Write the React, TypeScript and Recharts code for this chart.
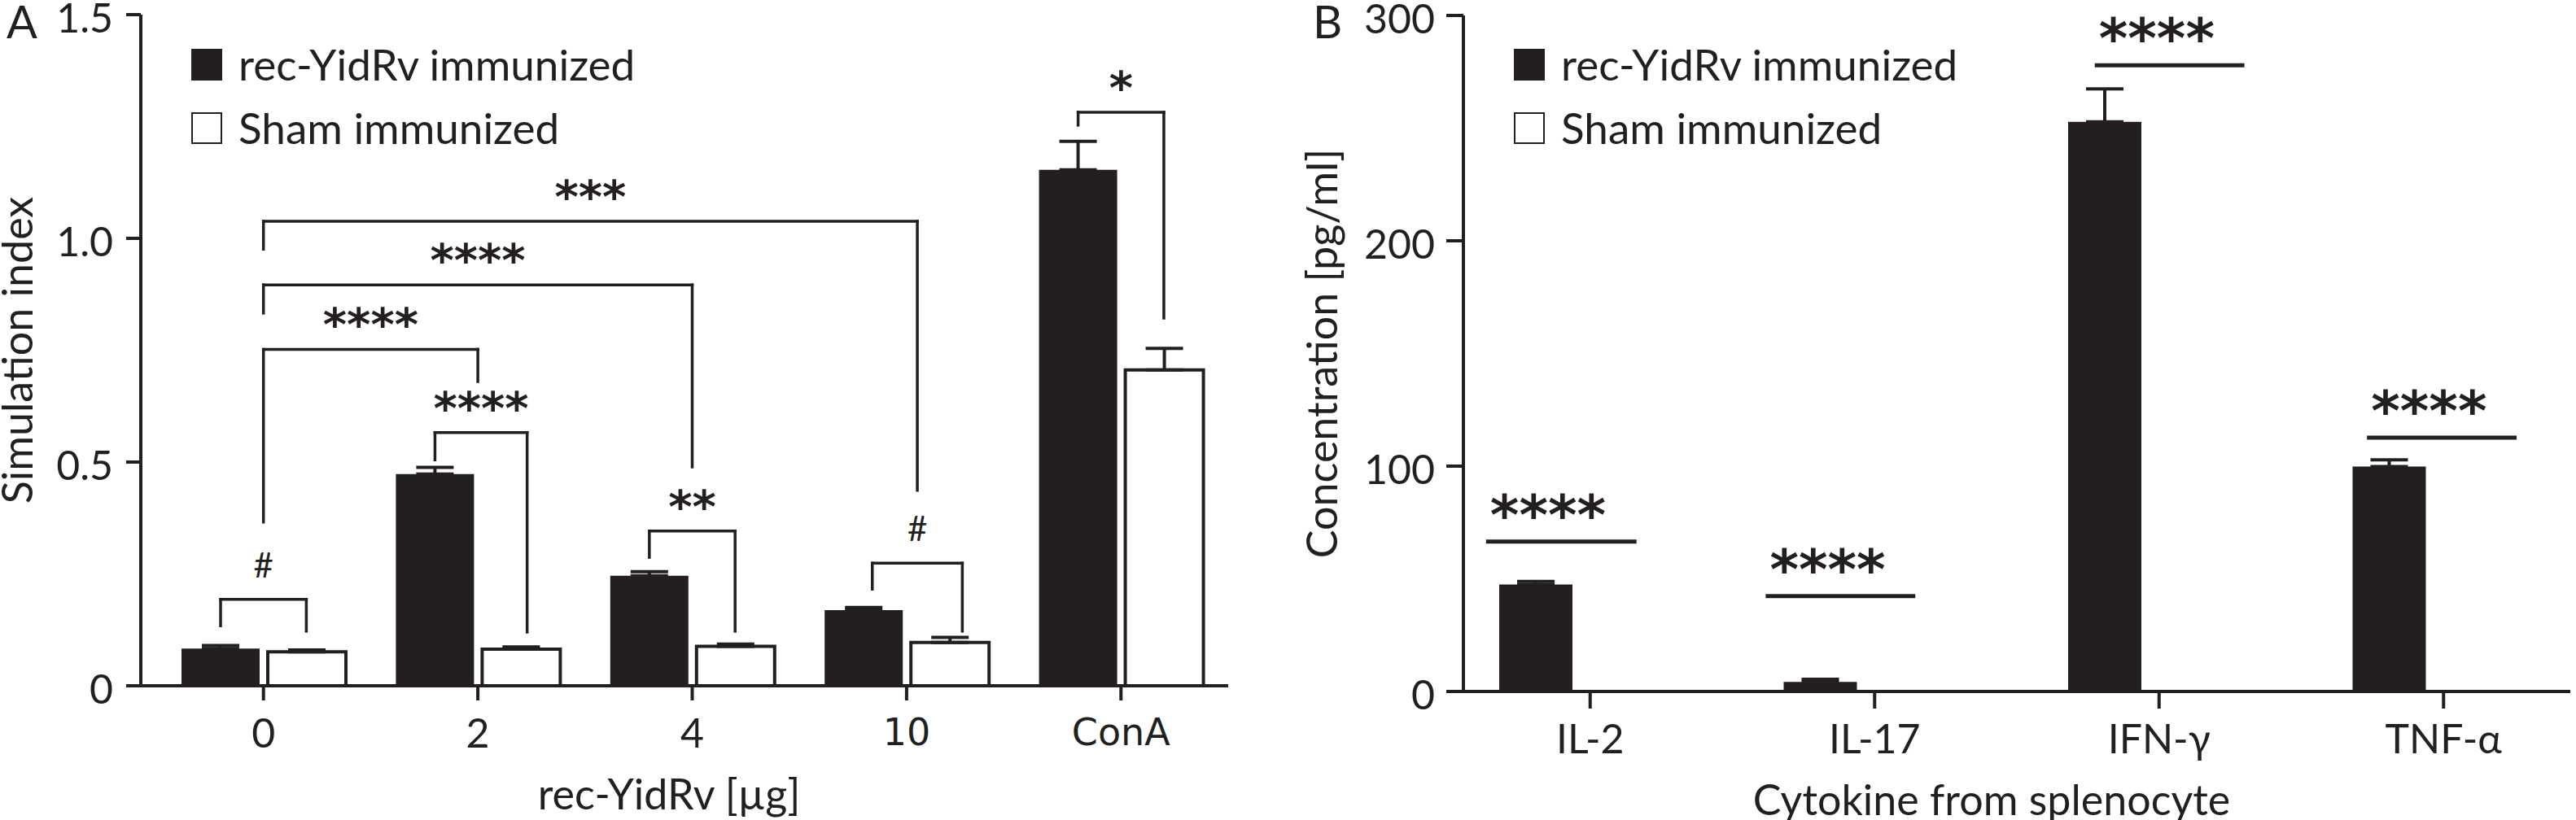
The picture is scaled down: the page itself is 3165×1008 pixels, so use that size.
import React from 'react'
import {
  ComposedChart,
  Bar,
  XAxis,
  YAxis,
  ErrorBar,
  ReferenceLine,
  Legend,
} from 'recharts'

const INK = '#231f20'
const FONT = 'Lato, "Open Sans", sans-serif'
const ALT_FONT = '"DejaVu Sans", Verdana, sans-serif'

// panel A: proliferation
const doses = ['0', '2', '4', '10', 'ConA']
const recIndex = [0.083, 0.473, 0.246, 0.169, 1.153]
const recIndexErr = [0.007, 0.015, 0.009, 0.006, 0.064]
const shamIndex = [0.076, 0.082, 0.088, 0.097, 0.706]
const shamIndexErr = [0.004, 0.005, 0.005, 0.011, 0.048]
const indexTicks = [0, 0.5, 1.0, 1.5]

// brackets in category units (0 = first group), heights in index units
const bracketsA = [
  { x1: -0.2, x2: 0.2, top: 0.193, leftEnd: 0.134, rightEnd: 0.122, mark: '#' },
  { x1: 0.8, x2: 1.23, top: 0.566, leftEnd: 0.505, rightEnd: 0.12, mark: '****' },
  { x1: 1.8, x2: 2.2, top: 0.346, leftEnd: 0.287, rightEnd: 0.122, mark: '**' },
  { x1: 2.84, x2: 3.26, top: 0.274, leftEnd: 0.216, rightEnd: 0.122, mark: '#' },
  { x1: 3.8, x2: 4.2, top: 1.282, leftEnd: 1.253, rightEnd: 0.822, mark: '*' },
  { x1: 0, x2: 1, top: 0.752, leftEnd: 0.366, rightEnd: 0.68, mark: '****' },
  { x1: 0, x2: 2, top: 0.896, leftEnd: 0.833, rightEnd: 0.489, mark: '****' },
  { x1: 0, x2: 3.05, top: 1.038, leftEnd: 0.976, rightEnd: 0.437, mark: '***' },
]

// panel B: cytokines
const cytokines = ['IL-2', 'IL-17', 'IFN-γ', 'TNF-α']
const recConc = [47.5, 4.2, 252.8, 99.8]
const recConcErr = [1.3, 1.2, 14.6, 3.0]
const shamConc = [0, 0, 0, 0]
const concTicks = [0, 100, 200, 300]

const sigLinesB = [
  { x1: -0.366, x2: 0.163, y: 66.5 },
  { x1: 0.617, x2: 1.143, y: 42.3 },
  { x1: 1.774, x2: 2.3, y: 277.9 },
  { x1: 2.731, x2: 3.257, y: 112.6 },
]

const dataA = doses.map((d, i) => ({
  dose: d,
  slot: i,
  rec: recIndex[i],
  recErr: [0, recIndexErr[i]],
  sham: shamIndex[i],
  shamErr: [0, shamIndexErr[i]],
}))

const dataB = cytokines.map((c, i) => ({
  cytokine: c,
  slot: i,
  rec: recConc[i],
  recErr: [0, recConcErr[i]],
  sham: shamConc[i],
}))

const axisStyle = { stroke: INK, strokeWidth: 4 }

const LegendBox = (props: any) => (
  <div style={{ fontFamily: FONT, fontSize: 53, color: INK }}>
    {(props.payload || []).map((entry: any) => (
      <div
        key={entry.value}
        style={{ display: 'flex', alignItems: 'center', height: 78, lineHeight: '62px' }}
      >
        <span
          style={{
            display: 'inline-block',
            width: 34,
            height: 35,
            background: entry.color,
            border: `2px solid ${INK}`,
            marginRight: 20,
          }}
        />
        {entry.value}
      </div>
    ))}
  </div>
)

const CategoryTick = (props: any) => {
  const v = props.payload.value
  const alt = v === '10' || v === 'ConA'
  return (
    <text
      x={props.x}
      y={props.y}
      dy="0.71em"
      textAnchor="middle"
      fill={INK}
      fontSize={alt ? 46 : 50}
      fontFamily={alt ? ALT_FONT : FONT}
    >
      {v}
    </text>
  )
}

const ValueTick = (props: any) => (
  <text
    x={props.x}
    y={props.y + 4}
    dy="0.36em"
    textAnchor="end"
    fill={INK}
    fontSize={50}
    fontFamily={FONT}
  >
    {props.tickFormatter ? props.tickFormatter(props.payload.value) : props.payload.value}
  </text>
)

const markAbove = (text: string, size: number, gap: number, startAt?: number) => (props: any) => {
  const vb = props.viewBox
  const stars = text.startsWith('*')
  const x = startAt === undefined ? vb.x + vb.width / 2 : vb.x + startAt
  return (
    <text
      x={x}
      y={vb.y - gap}
      textAnchor={startAt === undefined ? 'middle' : 'start'}
      fill={INK}
      fontSize={size}
      fontWeight={stars ? 700 : 400}
      fontFamily={stars ? ALT_FONT : FONT}
    >
      {text}
    </text>
  )
}

const yTitle = (title: string, letter: string, dx: number, letterX: number) => (props: any) => {
  const vb = props.viewBox
  const cx = vb.x + dx
  const cy = vb.y + vb.height / 2
  return (
    <g>
      <text
        x={cx}
        y={cy}
        transform={`rotate(-90, ${cx}, ${cy})`}
        textAnchor="middle"
        fill={INK}
        fontSize={52}
        fontFamily={FONT}
      >
        {title}
      </text>
      <text x={letterX} y={47} fill={INK} fontSize={56} fontFamily={FONT}>
        {letter}
      </text>
    </g>
  )
}

const xTitle = (title: string, dx: number) => (props: any) => {
  const vb = props.viewBox
  return (
    <text
      x={vb.x + vb.width / 2 + dx}
      y={vb.y + 152}
      textAnchor="middle"
      fill={INK}
      fontSize={52}
      fontFamily={FONT}
    >
      {title}
    </text>
  )
}

const PanelA = () => (
  <ComposedChart
    width={1580}
    height={1008}
    data={dataA}
    barSize={96}
    barGap={10}
    margin={{ top: 18, right: 71, bottom: 85, left: 73 }}
  >
    <XAxis
      dataKey="dose"
      height={80}
      padding={{ left: 19, right: 0 }}
      tickSize={18}
      tickMargin={22}
      tick={<CategoryTick />}
      tickLine={axisStyle}
      axisLine={axisStyle}
      label={{ content: xTitle('rec-YidRv [µg]', -19) }}
    />
    <XAxis
      xAxisId="n"
      dataKey="slot"
      orientation="top"
      type="number"
      domain={[-0.5, 4.5]}
      allowDataOverflow
      padding={{ left: 19, right: 0 }}
      height={0}
      tick={false}
      tickLine={false}
      axisLine={axisStyle}
    />
    <YAxis
      width={100}
      domain={[0, 1.5]}
      ticks={indexTicks}
      allowDataOverflow
      tickFormatter={(v: number) => (v === 0 ? '0' : v.toFixed(1))}
      tickSize={18}
      tickMargin={16}
      tick={<ValueTick />}
      tickLine={axisStyle}
      axisLine={axisStyle}
      label={{ content: yTitle('Simulation index', 'A', -33, 8) }}
    />
    <Legend
      layout="vertical"
      align="center"
      verticalAlign="middle"
      itemSorter="dataKey"
      wrapperStyle={{ position: 'absolute', left: 235, top: 40, width: 'auto' }}
      content={<LegendBox />}
    />
    <Bar dataKey="rec" name="rec-YidRv immunized" fill={INK} isAnimationActive={false}>
      <ErrorBar dataKey="recErr" width={23} stroke={INK} strokeWidth={4} isAnimationActive={false} />
    </Bar>
    <Bar
      dataKey="sham"
      name="Sham immunized"
      fill="#ffffff"
      stroke={INK}
      strokeWidth={4}
      isAnimationActive={false}
    >
      <ErrorBar dataKey="shamErr" width={23} stroke={INK} strokeWidth={4} isAnimationActive={false} />
    </Bar>
    {bracketsA.flatMap((b, i) => [
      <ReferenceLine
        key={`l${i}`}
        xAxisId="n"
        segment={[{ x: b.x1, y: b.leftEnd }, { x: b.x1, y: b.top }]}
        stroke={INK}
        strokeWidth={3.5}
        strokeLinecap="square"
      />,
      <ReferenceLine
        key={`t${i}`}
        xAxisId="n"
        segment={[{ x: b.x1, y: b.top }, { x: b.x2, y: b.top }]}
        stroke={INK}
        strokeWidth={3.5}
        strokeLinecap="square"
        label={markAbove(b.mark, b.mark === '#' ? 42 : 56, b.mark === '#' ? 27 : 11)}
      />,
      <ReferenceLine
        key={`r${i}`}
        xAxisId="n"
        segment={[{ x: b.x2, y: b.top }, { x: b.x2, y: b.rightEnd }]}
        stroke={INK}
        strokeWidth={3.5}
        strokeLinecap="square"
      />,
    ])}
  </ComposedChart>
)

const PanelB = () => (
  <ComposedChart
    width={1585}
    height={1008}
    data={dataB}
    barSize={90}
    barGap={44}
    margin={{ top: 19, right: 7, bottom: 78, left: 118 }}
  >
    <XAxis
      dataKey="cytokine"
      height={80}
      padding={{ left: -19, right: -19 }}
      tickSize={21}
      tickMargin={19}
      tick={<CategoryTick />}
      tickLine={axisStyle}
      axisLine={axisStyle}
      label={{ content: xTitle('Cytokine from splenocyte', -31) }}
    />
    <XAxis
      xAxisId="n"
      dataKey="slot"
      orientation="top"
      type="number"
      domain={[-0.5, 3.5]}
      allowDataOverflow
      padding={{ left: -19, right: -19 }}
      height={0}
      tick={false}
      tickLine={false}
      axisLine={axisStyle}
    />
    <YAxis
      width={100}
      domain={[0, 300]}
      ticks={concTicks}
      allowDataOverflow
      tickSize={21}
      tickMargin={14}
      tick={<ValueTick />}
      tickLine={axisStyle}
      axisLine={axisStyle}
      label={{ content: yTitle('Concentration [pg/ml]', 'B', -55, 33) }}
    />
    <YAxis
      yAxisId="r"
      orientation="right"
      width={0}
      domain={[0, 300]}
      tick={false}
      tickLine={false}
      axisLine={axisStyle}
    />
    <Legend
      layout="vertical"
      align="center"
      verticalAlign="middle"
      itemSorter="dataKey"
      wrapperStyle={{ position: 'absolute', left: 280, top: 40, width: 'auto' }}
      content={<LegendBox />}
    />
    <Bar dataKey="rec" name="rec-YidRv immunized" fill={INK} isAnimationActive={false}>
      <ErrorBar dataKey="recErr" width={23} stroke={INK} strokeWidth={4} isAnimationActive={false} />
    </Bar>
    <Bar
      dataKey="sham"
      name="Sham immunized"
      fill="#ffffff"
      stroke={INK}
      strokeWidth={4}
      isAnimationActive={false}
    />
    {sigLinesB.map((s, i) => (
      <ReferenceLine
        key={`s${i}`}
        xAxisId="n"
        segment={[{ x: s.x1, y: s.y }, { x: s.x2, y: s.y }]}
        stroke={INK}
        strokeWidth={5}
        label={markAbove('****', 68, 9, 5)}
      />
    ))}
  </ComposedChart>
)

export default function App() {
  return (
    <div
      style={{
        position: 'absolute',
        left: 0,
        top: 0,
        width: 3165,
        height: 1008,
        background: '#ffffff',
      }}
    >
      <div style={{ position: 'absolute', left: 0, top: 0 }}>
        <PanelA />
      </div>
      <div style={{ position: 'absolute', left: 1580, top: 0 }}>
        <PanelB />
      </div>
    </div>
  )
}
